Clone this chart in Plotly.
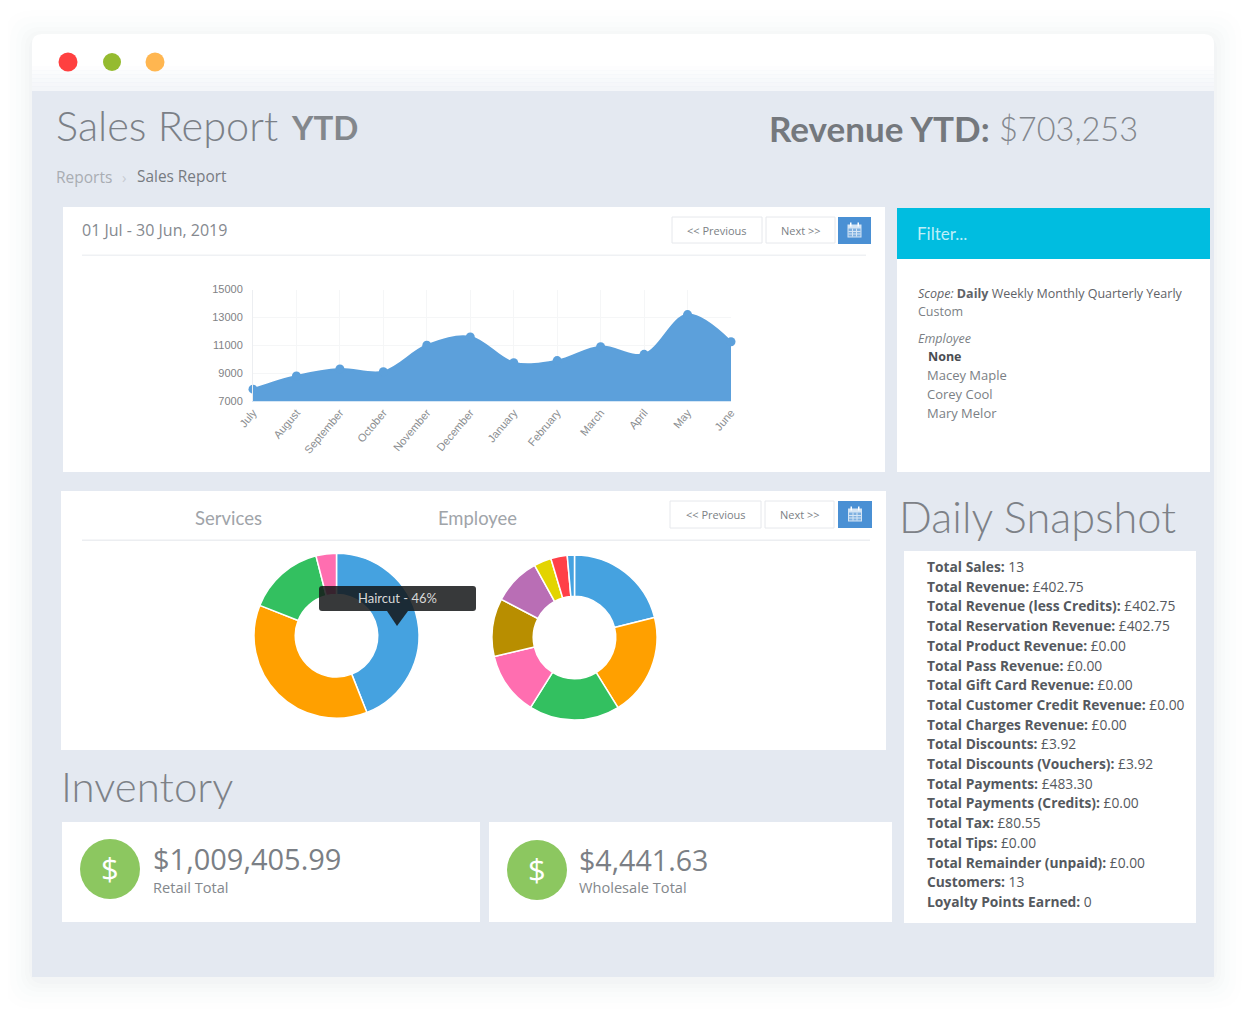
import plotly.graph_objects as go

W, H = 1260, 1028
OFFSET = 8  # the page keeps its default body margin

# area chart
months = ["July", "August", "September", "October", "November", "December",
          "January", "February", "March", "April", "May", "June"]
sales = [7850, 8800, 9300, 9100, 11000, 11600, 9750, 9900, 10900, 10350, 13200, 11250]
y_ticks = [7000, 9000, 11000, 13000, 15000]

# donuts
services = ["Haircut", "Colour", "Styling", "Other"]
services_pct = [44, 37, 15, 4]
services_colors = ["#45a2e0", "#ffa000", "#33c060", "#ff6eb0"]
employees = ["A", "B", "C", "D", "E", "F", "G", "H", "I"]
employees_pct = [21, 20, 17.7, 12.3, 11.3, 9.3, 3.4, 3.2, 1.4]
employees_colors = ["#45a2e0", "#ffa000", "#33c060", "#ff6eb0", "#b88e00",
                    "#b96eb5", "#e3d400", "#ff4048", "#45a2e0"]

# text blocks
staff = ["Macey Maple", "Corey Cool", "Mary Melor"]
snapshot_labels = ["Total Sales:", "Total Revenue:", "Total Revenue (less Credits):",
                   "Total Reservation Revenue:", "Total Product Revenue:", "Total Pass Revenue:",
                   "Total Gift Card Revenue:", "Total Customer Credit Revenue:",
                   "Total Charges Revenue:", "Total Discounts:", "Total Discounts (Vouchers):",
                   "Total Payments:", "Total Payments (Credits):", "Total Tax:", "Total Tips:",
                   "Total Remainder (unpaid):", "Customers:", "Loyalty Points Earned:"]
snapshot_values = ["13", "£402.75", "£402.75", "£402.75", "£0.00", "£0.00", "£0.00", "£0.00", "£0.00",
                   "£3.92", "£3.92", "£483.30", "£0.00", "£80.55", "£0.00", "£0.00", "13", "0"]

BODY = "Open Sans"
HEAD = "Lato"


def px(x):
    return (x - OFFSET) / (W - OFFSET)


def py(y):
    return 1 - (y - OFFSET) / (H - OFFSET)


shapes = []
notes = []


def rect(x0, y0, x1, y1, fill, line=None, layer="below"):
    shapes.append(dict(type="rect", xref="paper", yref="paper", x0=px(x0), x1=px(x1),
                       y0=py(y0), y1=py(y1), fillcolor=fill, layer=layer,
                       line=dict(color=line or "rgba(0,0,0,0)", width=1 if line else 0)))


def rounded(x0, y0, x1, y1, r, fill, layer="below", bottom=True):
    rb = r if bottom else 0
    d = "M %f %f L %f %f Q %f %f %f %f L %f %f Q %f %f %f %f L %f %f Q %f %f %f %f L %f %f Q %f %f %f %f Z" % (
        px(x0 + r), py(y0), px(x1 - r), py(y0), px(x1), py(y0), px(x1), py(y0 + r),
        px(x1), py(y1 - rb), px(x1), py(y1), px(x1 - rb), py(y1),
        px(x0 + rb), py(y1), px(x0), py(y1), px(x0), py(y1 - rb),
        px(x0), py(y0 + r), px(x0), py(y0), px(x0 + r), py(y0))
    shapes.append(dict(type="path", xref="paper", yref="paper", path=d, fillcolor=fill,
                       layer=layer, line=dict(width=0)))


def circle(cx, cy, r, fill, layer="below"):
    shapes.append(dict(type="circle", xref="paper", yref="paper", x0=px(cx - r), x1=px(cx + r),
                       y0=py(cy - r), y1=py(cy + r), fillcolor=fill, layer=layer, line=dict(width=0)))


def text(x, y, s, size=13, color="#6d7177", family=BODY, anchor="left", weight=None):
    font = dict(size=size, color=color, family=family)
    if weight:
        font["weight"] = weight
    notes.append(dict(x=px(x), y=py(y), xref="paper", yref="paper", text=s, showarrow=False,
                      xanchor=anchor, yanchor="middle", font=font, align="left",
                      borderpad=0, borderwidth=0))


def calendar(x0, y0, x1, y1):
    rect(x0, y0, x1, y1, "#4a90d4")
    cx, cy = (x0 + x1) / 2, (y0 + y1) / 2
    rect(cx - 7, cy - 6, cx + 7, cy + 7, "#d5e5f5")
    rect(cx - 6, cy - 2, cx + 6, cy + 6, "#7fb0e0")
    for gx in (-2, 2):
        rect(cx + gx - 0.5, cy - 2, cx + gx + 0.5, cy + 6, "#d5e5f5")
    for gy in (1, 3.5):
        rect(cx - 6, cy + gy - 0.5, cx + 6, cy + gy + 0.5, "#d5e5f5")
    rect(cx - 4.5, cy - 8, cx - 3, cy - 4, "#ffffff")
    rect(cx + 3, cy - 8, cx + 4.5, cy - 4, "#ffffff")


# soft window shadow
for grow, alpha in [(28, 0.005), (22, 0.007), (16, 0.009), (11, 0.011), (7, 0.013), (3, 0.016)]:
    rounded(32 - grow, 34 - grow + 4, 1214 + grow, 977 + grow + 4, 14 + grow / 2, "rgba(60,70,100,%s)" % alpha)

# window
rounded(32, 34, 1214, 95, 10, "#ffffff", bottom=False)
for i in range(6):
    rect(32, 66 + i * 4, 1214, 70 + i * 4 + 1, "rgba(240,243,247,%s)" % (0.15 + i * 0.12))
rect(32, 91, 1214, 977, "#e4e9f1")
circle(68, 62, 9.5, "#ff4040")
circle(112, 62, 9, "#95bb2f")
circle(155, 62, 9.5, "#ffb650")

# panels
for box in [(63, 207, 885, 472), (897, 208, 1210, 472), (61, 491, 886, 750),
            (62, 822, 480, 922), (489, 822, 892, 922), (904, 551, 1196, 923)]:
    rect(*box, "#ffffff")
rect(897, 208, 1210, 259, "#00bde0")
rect(82, 254.5, 866, 256, "#eff1f4")
rect(82, 539.5, 870, 541, "#eceef1")

# buttons
for x0, x1, y0, y1, label in [(672, 762, 217, 243, "&lt;&lt; Previous"), (766, 835, 217, 243, "Next &gt;&gt;"),
                              (670, 761, 501, 528, "&lt;&lt; Previous"), (765, 834, 501, 528, "Next &gt;&gt;")]:
    rect(x0, y0, x1, y1, "#ffffff", line="#e6e8ec")
    text((x0 + x1) / 2, y0 + 13, label, size=11, color="#7b7f85", anchor="center")
calendar(838, 217, 871, 244)
calendar(838, 501, 872, 528)

# headings
text(56, 125, "Sales Report", size=41.5, color="#7b8087", family=HEAD, weight=300)
text(291, 127, "<b>YTD</b>", size=33, color="#83878c", family=HEAD)
text(56, 177, "Reports", size=15.5, color="#a9adb3")
text(122, 177, "›", size=15, color="#c8ccd2")
text(137, 177, "Sales Report", size=15.4, color="#777b81")
text(769, 128, "<b>Revenue YTD:</b>", size=35, color="#74787d", family=HEAD)
text(999, 128, "$703,253", size=32.5, color="#83878d", family=HEAD, weight=300)
text(82, 230, "01 Jul - 30 Jun, 2019", size=16, color="#85898f")
text(195, 518, "Services", size=18.5, color="#a0a4a9", family=HEAD)
text(438, 518, "Employee", size=18.4, color="#a0a4a9", family=HEAD)
text(917, 233, "Filter...", size=17, color="#bdeef8", family=HEAD)
text(899, 516, "Daily Snapshot", size=43.3, color="#7d8187", family=HEAD, weight=300)
text(61, 786, "Inventory", size=42, color="#7d8187", family=HEAD, weight=300)

# filter box
text(918, 293, "<i>Scope:</i> <b>Daily</b> Weekly Monthly Quarterly Yearly", size=12.5, color="#5f6368")
text(918, 311, "Custom", size=12.5, color="#7b7f85")
text(918, 339, "<i>Employee</i>", size=12.5, color="#7b7f85")
text(928, 356, "<b>None</b>", size=12.5, color="#4a4d52")
for i, name in enumerate(staff):
    text(927, 375 + i * 19, name, size=13, color="#7b7f85")

# snapshot list
for i, (label, value) in enumerate(zip(snapshot_labels, snapshot_values)):
    text(927, 566.5 + i * 19.7, "<b>%s</b> %s" % (label, value), size=13.8, color="#55595e")

# inventory cards
circle(110, 869, 30, "#8cc760")
circle(537, 870, 30, "#8cc760")
text(110, 868, "$", size=31, color="#ffffff", anchor="center", weight=500)
text(537, 869, "$", size=31, color="#ffffff", anchor="center", weight=500)
text(153, 858, "$1,009,405.99", size=29, color="#7b7f85")
text(153, 887, "Retail Total", size=14.6, color="#83878c")
text(579, 859, "$4,441.63", size=28.6, color="#7b7f85")
text(579, 887, "Wholesale Total", size=14.6, color="#83878c")

# tooltip over the first donut
rounded(319, 586, 476, 611, 3, "rgba(20,22,24,0.85)", layer="above")
shapes.append(dict(type="path", xref="paper", yref="paper", layer="above", line=dict(width=0),
                   fillcolor="rgba(20,22,24,0.85)",
                   path="M %f %f L %f %f L %f %f Z" % (px(387), py(611), px(397), py(626), px(408), py(611))))
text(397.5, 598, "Haircut - 46%", size=13, color="#d8d8d8", family=HEAD, anchor="center")

fig = go.Figure()
fig.add_trace(go.Scatter(x=months, y=sales, mode="lines+markers", fill="tozeroy",
                         fillcolor="#5ca0db", line=dict(color="#5ca0db", width=2, shape="spline", smoothing=1),
                         marker=dict(color="#5ca0db", size=9), cliponaxis=False, showlegend=False))
fig.add_trace(go.Pie(labels=services, values=services_pct, hole=0.5, sort=False, direction="clockwise",
                     marker=dict(colors=services_colors, line=dict(color="#ffffff", width=1.5)),
                     textinfo="none", showlegend=False,
                     domain=dict(x=[px(254), px(419)], y=[py(718.5), py(553)])))
fig.add_trace(go.Pie(labels=employees, values=employees_pct, hole=0.5, sort=False, direction="clockwise",
                     marker=dict(colors=employees_colors, line=dict(color="#ffffff", width=1.5)),
                     textinfo="none", showlegend=False,
                     domain=dict(x=[px(492), px(657)], y=[py(720), py(555)])))

fig.update_layout(
    width=W - OFFSET, height=H - OFFSET, margin=dict(l=0, r=0, t=0, b=0, autoexpand=False),
    paper_bgcolor="#ffffff", plot_bgcolor="rgba(0,0,0,0)",
    shapes=shapes, annotations=notes,
    xaxis=dict(domain=[px(253), px(731)], range=[0, 11], type="category", categoryorder="array",
               categoryarray=months, tickangle=-50, showgrid=True, gridcolor="#f5f6f7", gridwidth=1,
               tickfont=dict(family="Liberation Sans", size=11, color="#8a8d90"), ticks="", zeroline=False,
               showline=True, linecolor="#d5e6f5", automargin=False),
    yaxis=dict(domain=[py(401), py(289.5)], range=[7000, 15000], tickvals=y_ticks, tickformat="d", showgrid=True,
               gridcolor="#f5f6f7", tickfont=dict(family="Liberation Sans", size=11, color="#7f8285"),
               ticks="", zeroline=False, showline=True, linecolor="#eceef1", automargin=False,
               ticklabelstandoff=7),
)

fig.write_html("out.html")
